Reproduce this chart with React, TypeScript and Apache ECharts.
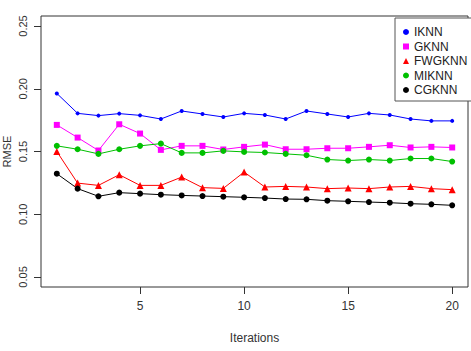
import React, { useEffect, useRef } from "react";
import * as echarts from "echarts";

// Iteration numbers on the x axis
const iterations = [1, 2, 3, 4, 5, 6, 7, 8, 9, 10, 11, 12, 13, 14, 15, 16, 17, 18, 19, 20];

// RMSE per iteration for each imputation method
const iknn = [0.1963, 0.1804, 0.1786, 0.1802, 0.1788, 0.1759, 0.1823, 0.1799, 0.1775, 0.1804,
  0.1791, 0.1759, 0.1823, 0.1799, 0.1775, 0.1804, 0.1791, 0.1759, 0.1744, 0.1744];
const gknn = [0.1712, 0.1611, 0.1508, 0.1717, 0.1643, 0.1513, 0.1545, 0.1545, 0.1516, 0.1537,
  0.1555, 0.1518, 0.1518, 0.1526, 0.1526, 0.1537, 0.155, 0.1532, 0.1537, 0.1532];
const fwgknn = [0.15, 0.1248, 0.123, 0.1315, 0.123, 0.123, 0.1296, 0.1212, 0.1206, 0.1336,
  0.1217, 0.1222, 0.1217, 0.1204, 0.1209, 0.1204, 0.1217, 0.1222, 0.1204, 0.1196];
const miknn = [0.1545, 0.1518, 0.1481, 0.1518, 0.1545, 0.1563, 0.1489, 0.1489, 0.1505, 0.1497,
  0.1492, 0.1481, 0.147, 0.1436, 0.1428, 0.1436, 0.1428, 0.1444, 0.1444, 0.142];
const cgknn = [0.1323, 0.1204, 0.1143, 0.1172, 0.1164, 0.1156, 0.115, 0.1145, 0.114, 0.1135,
  0.1129, 0.1121, 0.1119, 0.1108, 0.1103, 0.1097, 0.1092, 0.1084, 0.1079, 0.1071];

// Tick positions
const xTicks = [5, 10, 15, 20];
const yTicks = [0.05, 0.1, 0.15, 0.2, 0.25];

const FONT = "'Liberation Sans', Arial, sans-serif";

const methods = [
  { name: "IKNN", values: iknn, color: "#0000ff", symbol: "circle", size: 4 },
  { name: "GKNN", values: gknn, color: "#ff00ff", symbol: "rect", size: 6 },
  { name: "FWGKNN", values: fwgknn, color: "#ff0000", symbol: "triangle", size: 7 },
  { name: "MIKNN", values: miknn, color: "#00c000", symbol: "circle", size: 6 },
  { name: "CGKNN", values: cgknn, color: "#000000", symbol: "circle", size: 6 },
];

export default function App() {
  const ref = useRef<HTMLDivElement>(null);

  useEffect(() => {
    document.body.style.margin = "0";
    const chart = echarts.init(ref.current as HTMLDivElement, null, { renderer: "svg" });

    chart.setOption({
      animation: false,
      backgroundColor: "#ffffff",
      grid: {
        left: 41,
        right: 3,
        top: 16,
        bottom: 64,
        outerBoundsMode: "none",
        show: true,
        borderColor: "#333333",
        borderWidth: 1,
      },
      xAxis: {
        type: "value",
        min: 0.24,
        max: 20.76,
        splitLine: { show: false },
        axisLine: { show: false },
        axisTick: {
          show: true,
          customValues: xTicks,
          length: 7,
          lineStyle: { color: "#333333" },
        },
        axisLabel: {
          customValues: xTicks,
          margin: 13,
          fontSize: 12,
          fontFamily: FONT,
          color: "#333333",
        },
        name: "Iterations",
        nameLocation: "middle",
        nameGap: 45,
        nameMoveOverlap: false,
        nameTextStyle: { fontSize: 12, fontFamily: FONT, color: "#333333" },
      },
      yAxis: {
        type: "value",
        min: 0.042,
        max: 0.258,
        splitLine: { show: false },
        axisLine: { show: false },
        axisTick: {
          show: true,
          customValues: yTicks,
          length: 7,
          lineStyle: { color: "#333333" },
        },
        axisLabel: {
          customValues: yTicks,
          rotate: 90,
          margin: 13,
          fontSize: 11,
          fontFamily: FONT,
          color: "#333333",
          formatter: (v: number) => v.toFixed(2),
        },
        name: "RMSE",
        nameLocation: "middle",
        nameRotate: 90,
        nameGap: 29,
        nameMoveOverlap: false,
        nameTextStyle: { fontSize: 11, fontFamily: FONT, color: "#333333" },
      },
      legend: {
        orient: "vertical",
        left: 395,
        top: 18,
        padding: [8, 14, 5, 8],
        itemGap: 2.5,
        itemWidth: 6,
        itemHeight: 6,
        borderColor: "#555555",
        borderWidth: 1,
        backgroundColor: "#ffffff",
        selectedMode: false,
        textStyle: { fontSize: 12, fontFamily: FONT, color: "#222222" },
        data: methods.map((m) => ({ name: m.name, icon: m.symbol })),
      },
      series: methods.map((m) => ({
        name: m.name,
        type: "line",
        data: iterations.map((x, i) => [x, m.values[i]]),
        symbol: m.symbol,
        symbolSize: m.size,
        showAllSymbol: true,
        color: m.color,
        itemStyle: { color: m.color },
        lineStyle: { color: m.color, width: 1 },
        emphasis: { disabled: true },
        silent: true,
      })),
    });

    return () => chart.dispose();
  }, []);

  return <div ref={ref} style={{ width: 471, height: 351 }} />;
}
